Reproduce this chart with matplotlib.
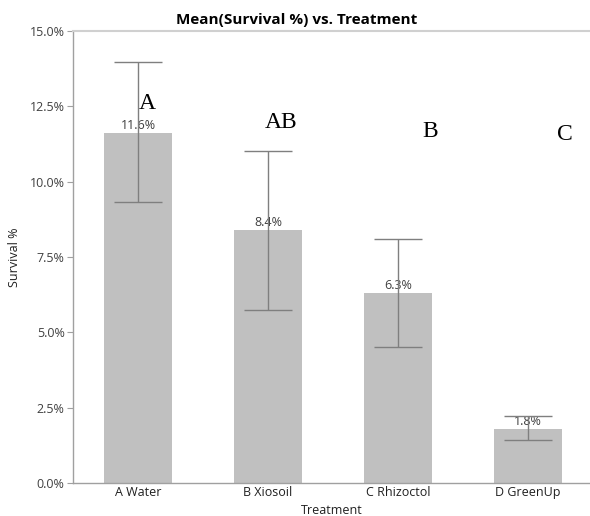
import matplotlib
matplotlib.use("Agg")
import matplotlib.pyplot as plt
from matplotlib.ticker import FuncFormatter, MultipleLocator

# Mean survival by treatment with error bar limits and group letters
treatments = ["A Water", "B Xiosoil", "C Rhizoctol", "D GreenUp"]
means = [11.6, 8.4, 6.3, 1.8]
err_upper = [13.97, 11.02, 8.10, 2.22]
err_lower = [9.33, 5.74, 4.51, 1.43]
groups = ["A", "AB", "B", "C"]
group_x_offset = [0.07, 0.10, 0.25, 0.28]
group_y = [12.6, 11.98, 11.68, 11.58]

plt.rcParams["font.family"] = ["Open Sans", "DejaVu Sans"]

fig = plt.figure(figsize=(5.90, 5.16), dpi=100)
ax = fig.add_axes([73 / 590, 1 - 483 / 516, 1 - 73 / 590, (483 - 31) / 516])

x = list(range(len(treatments)))
ax.bar(x, means, width=0.53, color="#c0c0c0", zorder=2)

yerr = [[m - lo for m, lo in zip(means, err_lower)],
        [hi - m for m, hi in zip(means, err_upper)]]
ax.errorbar(x, means, yerr=yerr, fmt="none", ecolor="#7f7f7f",
            elinewidth=1.0, capsize=17, capthick=1.0, zorder=4)

for xi, m in zip(x, means):
    ax.text(xi, m + 0.04, f"{m:.1f}%", ha="center", va="bottom",
            fontsize=9, color="#404040", zorder=3)

for xi, g, dx, gy in zip(x, groups, group_x_offset, group_y):
    ax.text(xi + dx, gy, g, ha="center", va="center",
            fontsize=17, family=["Liberation Serif", "DejaVu Serif"],
            color="black", zorder=5)

ax.set_xlim(-0.5, 3.477)
ax.set_ylim(0, 15)
ax.yaxis.set_major_locator(MultipleLocator(2.5))
ax.yaxis.set_major_formatter(FuncFormatter(lambda v, p: f"{v:.1f}%"))
ax.set_xticks(x)
ax.set_xticklabels(treatments)

ax.tick_params(axis="y", length=4, width=0.8, color="#a0a0a0",
               labelsize=9, labelcolor="#404040", pad=2)
ax.tick_params(axis="x", length=0, labelsize=9, labelcolor="#202020", pad=2)

for side in ("left", "bottom"):
    ax.spines[side].set_color("#a0a0a0")
    ax.spines[side].set_linewidth(1.0)
ax.spines["top"].set_color("#d0d0d0")
ax.spines["top"].set_linewidth(1.5)
ax.spines["right"].set_visible(False)

ax.set_xlabel("Treatment", fontsize=9, color="#202020", labelpad=4)
ax.set_ylabel("Survival %", fontsize=9, color="#202020", labelpad=6)
ax.set_title("Mean(Survival %) vs. Treatment", fontsize=11,
             fontweight="bold", color="black", pad=5, x=(297 - 73) / (590 - 73))

fig.savefig("out.png", dpi=100, facecolor="white")
